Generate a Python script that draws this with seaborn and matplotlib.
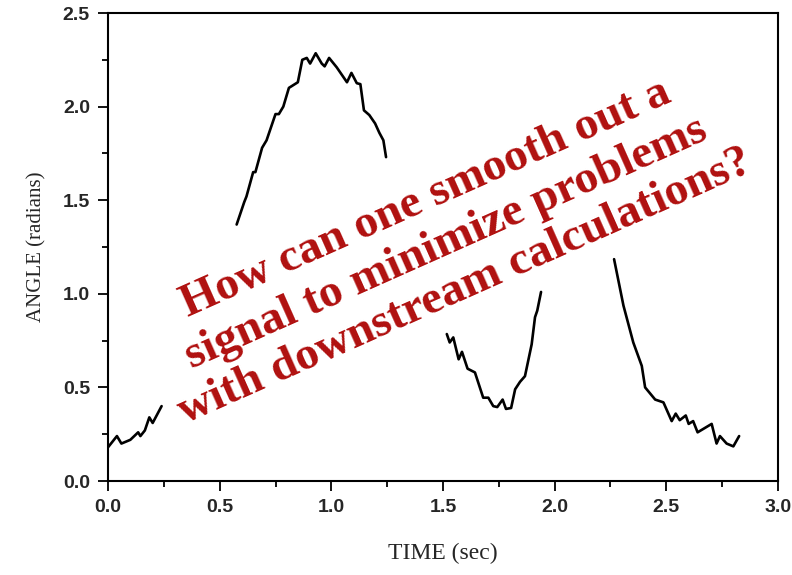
import numpy as np
import pandas as pd
import matplotlib
matplotlib.use("Agg")
import matplotlib.pyplot as plt
import seaborn as sns
from matplotlib.ticker import MultipleLocator

# ---- data (visible pieces of the signal) ----
seg1_t = [0.00, 0.04, 0.06, 0.10, 0.135, 0.145, 0.165, 0.185, 0.20, 0.24]
seg1_a = [0.18, 0.24, 0.20, 0.22, 0.26, 0.24, 0.27, 0.34, 0.31, 0.40]

seg2_t = [0.576, 0.61, 0.62, 0.65, 0.66, 0.69, 0.71, 0.75, 0.765, 0.785, 0.81,
          0.85, 0.87, 0.89, 0.905, 0.93, 0.957, 0.97, 0.99, 1.024, 1.07, 1.09,
          1.114, 1.13, 1.146, 1.17, 1.196, 1.215, 1.233, 1.245]
seg2_a = [1.37, 1.49, 1.52, 1.65, 1.65, 1.78, 1.82, 1.96, 1.96, 2.00, 2.10,
          2.13, 2.25, 2.26, 2.23, 2.285, 2.23, 2.215, 2.26, 2.21, 2.13, 2.18,
          2.125, 2.12, 1.98, 1.955, 1.91, 1.86, 1.82, 1.73]

seg3_t = [1.517, 1.53, 1.546, 1.57, 1.585, 1.61, 1.643, 1.68, 1.703, 1.725,
          1.743, 1.767, 1.782, 1.805, 1.823, 1.845, 1.867, 1.897, 1.912, 1.922, 1.939]
seg3_a = [0.785, 0.74, 0.767, 0.65, 0.69, 0.60, 0.58, 0.445, 0.445, 0.40,
          0.395, 0.435, 0.385, 0.39, 0.49, 0.53, 0.56, 0.73, 0.875, 0.91, 1.01]

seg4_t = [2.266, 2.308, 2.352, 2.39, 2.405, 2.45, 2.487, 2.524, 2.542, 2.56,
          2.587, 2.60, 2.62, 2.64, 2.703, 2.725, 2.74, 2.77, 2.80, 2.826]
seg4_a = [1.185, 0.937, 0.74, 0.615, 0.50, 0.435, 0.42, 0.32, 0.36, 0.325,
          0.35, 0.305, 0.32, 0.26, 0.305, 0.20, 0.24, 0.20, 0.185, 0.24]

x_ticks = [0.0, 0.5, 1.0, 1.5, 2.0, 2.5, 3.0]
y_ticks = [0.0, 0.5, 1.0, 1.5, 2.0, 2.5]
overlay_text = "How can one smooth out a\nsignal to minimize problems\nwith downstream calculations?"

segs = [(seg1_t, seg1_a), (seg2_t, seg2_a), (seg3_t, seg3_a), (seg4_t, seg4_a)]
df = pd.concat([pd.DataFrame({"time": t, "angle": a, "seg": i})
                for i, (t, a) in enumerate(segs)], ignore_index=True)

sns.set_style("ticks")

fig = plt.figure(figsize=(7.92, 5.75), dpi=100)
ax = fig.add_axes([108/792, 1 - 481/575, (778 - 108)/792, (481 - 13)/575])

sns.lineplot(data=df, x="time", y="angle", units="seg", estimator=None,
             color="black", linewidth=1.9, ax=ax, sort=False)

ax.set_xlim(0, 3.0)
ax.set_ylim(0, 2.5)
ax.set_xticks(x_ticks)
ax.set_yticks(y_ticks)
ax.xaxis.set_minor_locator(MultipleLocator(0.25))
ax.yaxis.set_minor_locator(MultipleLocator(0.25))
ax.set_xticklabels([f"{v:.1f}" for v in x_ticks])
ax.set_yticklabels([f"{v:.1f}" for v in y_ticks])
for lab in ax.get_xticklabels() + ax.get_yticklabels():
    lab.set_fontfamily("Liberation Sans")
    lab.set_fontweight("bold")
    lab.set_fontsize(14)
ax.tick_params(which="major", direction="out", length=7, width=1.3, color="black", pad=6)
ax.tick_params(which="minor", direction="out", length=4, width=1.3, color="black")
ax.tick_params(top=False, right=False, which="both")
for sp in ax.spines.values():
    sp.set_visible(True)
    sp.set_linewidth(1.5)
    sp.set_color("black")

ax.set_xlabel("TIME (sec)", fontfamily="Liberation Serif", fontsize=17, labelpad=19)
ax.set_ylabel("ANGLE (radians)", fontfamily="Liberation Serif", fontsize=15, labelpad=12)

ax.text(1.514, 1.27, overlay_text, transform=ax.transData, rotation=24,
        ha="center", va="center", multialignment="center",
        fontfamily="Liberation Serif", fontweight="bold", fontsize=34,
        color="#B0100F", linespacing=1.2)

fig.savefig("out.png", dpi=100)
